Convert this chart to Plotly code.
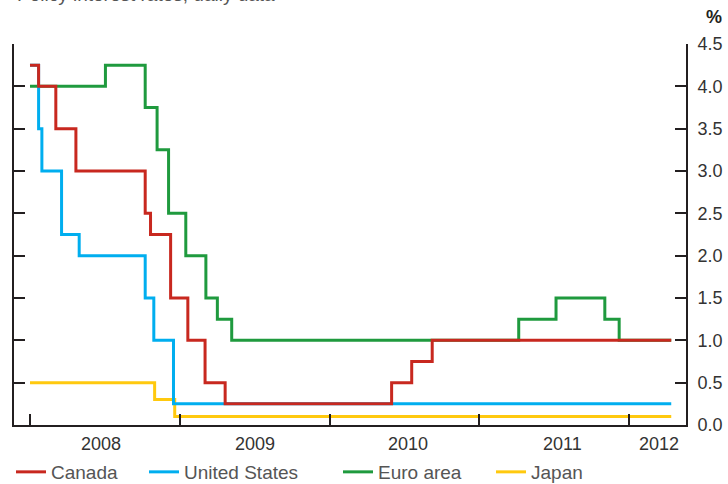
import plotly.graph_objects as go

end_date = "2012-04-13"

canada_dates = ["2008-01-01", "2008-01-22", "2008-03-04", "2008-04-22", "2008-10-08",
                "2008-10-21", "2008-12-09", "2009-01-20", "2009-03-03", "2009-04-21",
                "2010-06-01", "2010-07-20", "2010-09-08", end_date]
canada_rates = [4.25, 4.0, 3.5, 3.0, 2.5, 2.25, 1.5, 1.0, 0.5, 0.25, 0.5, 0.75, 1.0, 1.0]

us_dates = ["2008-01-01", "2008-01-22", "2008-01-30", "2008-03-18", "2008-04-30",
            "2008-10-08", "2008-10-29", "2008-12-16", end_date]
us_rates = [4.25, 3.5, 3.0, 2.25, 2.0, 1.5, 1.0, 0.25, 0.25]

euro_dates = ["2008-01-01", "2008-07-03", "2008-10-08", "2008-11-06", "2008-12-04",
              "2009-01-15", "2009-03-05", "2009-04-02", "2009-05-07", "2011-04-07",
              "2011-07-07", "2011-11-03", "2011-12-08", end_date]
euro_rates = [4.0, 4.25, 3.75, 3.25, 2.5, 2.0, 1.5, 1.25, 1.0, 1.25, 1.5, 1.25, 1.0, 1.0]

japan_dates = ["2008-01-01", "2008-10-31", "2008-12-19", end_date]
japan_rates = [0.5, 0.3, 0.1, 0.1]

year_ticks = ["2008-01-01", "2009-01-01", "2010-01-01", "2011-01-01", "2012-01-01"]
year_labels = ["2008", "2009", "2010", "2011", "2012"]
year_label_pos = ["2008-06-22", "2009-07-02", "2010-07-10", "2011-07-22", "2012-03-14"]

series = [
    ("Japan", japan_dates, japan_rates, "#FFC90E", "legend4", 498),
    ("Euro area", euro_dates, euro_rates, "#1F9A3E", "legend3", 345),
    ("United States", us_dates, us_rates, "#00AEEF", "legend2", 151),
    ("Canada", canada_dates, canada_rates, "#C8281F", "legend", 18),
]

W, H = 728, 484
L, R, T, B = 14, 42, 44, 59
pw = W - L - R
ph = H - T - B
FONT = "Liberation Sans, Arial, sans-serif"


def px_x(p):
    return (p - L) / pw


def px_y(p):
    return (H - B - p) / ph


fig = go.Figure()
legends = {}
for name, d, v, c, lg, lx in series:
    fig.add_trace(go.Scatter(x=d, y=v, mode="lines", name=name, showlegend=True,
                             line=dict(color=c, width=3, shape="hv"),
                             legend=lg))
    legends[lg] = dict(x=(lx - 7) / W, y=(H - 472) / H, xref="container", yref="container",
                       xanchor="left", yanchor="middle", visible=True,
                       orientation="h", bgcolor="rgba(0,0,0,0)", borderwidth=0,
                       font=dict(family=FONT, size=19, color="#555555"))

annotations = [
    dict(text="Policy interest rates, daily data", xref="paper", yref="paper",
         x=px_x(15), y=px_y(-5), xanchor="left", yanchor="middle", showarrow=False,
         font=dict(family=FONT, size=19, color="#555555")),
    dict(text="<b>%</b>", xref="paper", yref="paper", x=px_x(714), y=px_y(17),
         xanchor="center", yanchor="middle", showarrow=False,
         font=dict(family=FONT, size=18, color="#231f20")),
]
for lbl, pos in zip(year_labels, year_label_pos):
    annotations.append(dict(text=lbl, xref="x", yref="paper", x=pos, y=px_y(444),
                            xanchor="center", yanchor="middle", showarrow=False,
                            font=dict(family=FONT, size=18, color="#333333")))

fig.update_layout(
    width=W, height=H,
    margin=dict(l=L, r=R, t=T, b=B, autoexpand=False),
    paper_bgcolor="white", plot_bgcolor="white",
    showlegend=True,
    annotations=annotations,
    **legends,
    xaxis=dict(type="date", range=["2007-11-23", "2012-05-19"], showgrid=False,
               zeroline=False, showline=True, linecolor="#231f20", linewidth=2,
               ticks="inside", ticklen=11, tickwidth=1.5, tickcolor="#231f20",
               tickvals=year_ticks, showticklabels=False, automargin=False),
    yaxis=dict(side="right", range=[0, 4.5], tick0=0, dtick=0.5, tickformat=".1f",
               showgrid=False, zeroline=False, showline=True, mirror="ticks",
               linecolor="#231f20", linewidth=2, ticks="inside", ticklen=11,
               tickwidth=2, tickcolor="#231f20", ticklabelstandoff=6, automargin=False,
               tickfont=dict(family=FONT, size=18, color="#333333")),
)

fig.write_html("out.html",
               config={"displayModeBar": False},
               post_script="document.body.style.margin='0';"
                           "document.body.style.overflow='hidden';")
